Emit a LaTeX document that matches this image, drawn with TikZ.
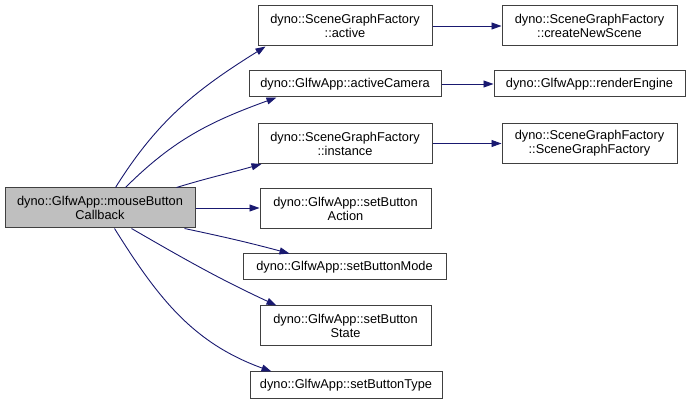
\documentclass[tikz,border=0pt]{standalone}
\usepackage{fontspec}
\setmainfont{Liberation Sans}
\usetikzlibrary{arrows.meta, calc}
\definecolor{edgeblue}{RGB}{25,25,112}
\definecolor{callgray}{RGB}{191,191,191}
\definecolor{boxline}{RGB}{64,64,64}

\begin{document}
\begin{tikzpicture}[x=1pt, y=1pt,
  fn/.style={rectangle, draw=boxline, line width=1pt, fill=white,
             inner sep=0pt, align=center,
             font=\fontsize{12.8}{14}\selectfont},
  arr/.style={-{Triangle[length=10pt, width=7pt]}, draw=edgeblue,
              line width=0.9pt}
]
  \useasboundingbox (0,0) rectangle (691,-403);

  \node[fn, fill=callgray, minimum width=190pt, minimum height=40pt] (mbc)
    at (100,-208) {dyno::GlfwApp::mouseButton\\Callback};

  \node[fn, minimum width=174pt, minimum height=40pt] (act) at (345,-26)
    {dyno::SceneGraphFactory\\::active};
  \node[fn, minimum width=192pt, minimum height=26pt] (cam) at (345,-84)
    {dyno::GlfwApp::activeCamera};
  \node[fn, minimum width=174pt, minimum height=40pt] (inst) at (345,-143.5)
    {dyno::SceneGraphFactory\\::instance};
  \node[fn, minimum width=171pt, minimum height=40pt] (sba) at (345.5,-208.5)
    {dyno::GlfwApp::setButton\\Action};
  \node[fn, minimum width=203pt, minimum height=26pt] (sbm) at (344.5,-267)
    {dyno::GlfwApp::setButtonMode};
  \node[fn, minimum width=171pt, minimum height=40pt] (sbs) at (345.5,-326)
    {dyno::GlfwApp::setButton\\State};
  \node[fn, minimum width=192pt, minimum height=26pt] (sbt) at (346,-385)
    {dyno::GlfwApp::setButtonType};

  \node[fn, minimum width=175pt, minimum height=40pt] (cns) at (589.5,-26)
    {dyno::SceneGraphFactory\\::createNewScene};
  \node[fn, minimum width=191pt, minimum height=26pt] (ren) at (589.5,-84)
    {dyno::GlfwApp::renderEngine};
  \node[fn, minimum width=175pt, minimum height=40pt] (sgf) at (589.5,-143.5)
    {dyno::SceneGraphFactory\\::SceneGraphFactory};

  \draw[arr] ($(mbc.north west)+(111,0)$) to[out=58, in=212]
    ($(act.south west)+(8,0)$);
  \draw[arr] ($(mbc.north west)+(121,0)$) to[out=45, in=200]
    ($(cam.south west)+(28,0)$);
  \draw[arr] ($(mbc.north west)+(172,0)$) to[out=17, in=196]
    ($(inst.south west)+(4,0)$);
  \draw[arr] (mbc.east) -- (mbc.east -| sba.west);
  \draw[arr] ($(mbc.south west)+(180,0)$) to[out=-12, in=165]
    ($(sbm.north west)+(47,0)$);
  \draw[arr] ($(mbc.south west)+(127,0)$) to[out=-30, in=155]
    ($(sbs.north west)+(17,0)$);
  \draw[arr] ($(mbc.south west)+(110,0)$) to[out=-58, in=160]
    ($(sbt.north west)+(22,0)$);

  \foreach \a/\b in {act/cns, cam/ren, inst/sgf}
    \draw[arr] (\a) -- (\b);
\end{tikzpicture}
\end{document}
